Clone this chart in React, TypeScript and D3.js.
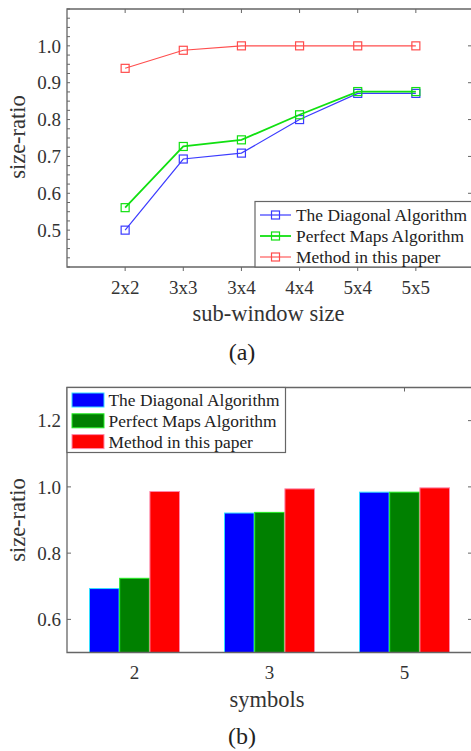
import * as d3 from "d3"

const W = 471
const H = 751
const FONT = "'Liberation Serif', 'Times New Roman', serif"

// panel (a)
const windowSizes = ["2x2", "3x3", "3x4", "4x4", "5x4", "5x5"]
const diagonalLine = [0.5, 0.693, 0.709, 0.8, 0.871, 0.871]
const perfectMapsLine = [0.561, 0.727, 0.745, 0.813, 0.876, 0.876]
const methodLine = [0.939, 0.988, 1.0, 1.0, 1.0, 1.0]
const aTicks = [0.5, 0.6, 0.7, 0.8, 0.9, 1.0]

// panel (b)
const symbolCounts = ["2", "3", "5"]
const diagonalBars = [0.693, 0.921, 0.984]
const perfectMapsBars = [0.724, 0.923, 0.984]
const methodBars = [0.986, 0.994, 0.997]
const bTicks = [0.6, 0.8, 1.0, 1.2]

const seriesNames = ["The Diagonal Algorithm", "Perfect Maps Algorithm", "Method in this paper"]

const axisColor = "#666"

function LinePanel() {
  const left = 67, top = 9, bottom = 267, right = 474
  const x = d3.scaleLinear().domain([0, windowSizes.length + 1]).range([left, right])
  const y = d3.scaleLinear().domain([0.4, 1.1]).range([bottom, top])
  const minor = d3.range(0.4, 1.1001, 0.025)

  const series = [
    { name: seriesNames[0], values: diagonalLine, color: "#3b3bff", width: 1.2 },
    { name: seriesNames[1], values: perfectMapsLine, color: "#11e011", width: 1.8 },
    { name: seriesNames[2], values: methodLine, color: "#ff4d4d", width: 1.1 },
  ]
  const line = d3
    .line<number>()
    .x((_, i) => x(i + 1))
    .y((d) => y(d))

  return (
    <g>
      {/* minor + major ticks on left */}
      {minor.map((v, i) => (
        <line key={"m" + i} x1={left} x2={left + 3} y1={y(v)} y2={y(v)} stroke={axisColor} strokeWidth={1} />
      ))}
      {aTicks.map((v) => (
        <g key={v}>
          <line x1={right - 6} x2={right - 3} y1={y(v)} y2={y(v)} stroke={axisColor} strokeWidth={1} />
          <text x={61} y={y(v)} dy="0.35em" textAnchor="end" fontSize={19} fill="#333">
            {v.toFixed(1)}
          </text>
        </g>
      ))}
      {windowSizes.map((s, i) => (
        <g key={s}>
          <line x1={x(i + 1)} x2={x(i + 1)} y1={top} y2={top + 4} stroke={axisColor} strokeWidth={1} />
          <line x1={x(i + 1)} x2={x(i + 1)} y1={bottom} y2={bottom + 4} stroke={axisColor} strokeWidth={1} />
          <text x={x(i + 1)} y={287} dy="0.35em" textAnchor="middle" fontSize={19} fill="#333">
            {s}
          </text>
        </g>
      ))}
      <path d={`M${right},${top}H${left}V${bottom}H${right}`} fill="none" stroke={axisColor} strokeWidth={1.3} />

      {series.map((s) => (
        <g key={s.name}>
          <path d={line(s.values) ?? ""} fill="none" stroke={s.color} strokeWidth={s.width} />
          {s.values.map((v, i) => (
            <rect key={i} x={x(i + 1) - 4} y={y(v) - 4} width={8} height={8} fill="none" stroke={s.color} strokeWidth={1.2} />
          ))}
        </g>
      ))}

      {/* legend */}
      <rect x={255} y={201.5} width={230} height={bottom - 201.5} fill="#fff" stroke={axisColor} strokeWidth={1.2} />
      {series.map((s, i) => {
        const ly = 215 + i * 21
        return (
          <g key={"l" + i}>
            <line x1={260} x2={291} y1={ly} y2={ly} stroke={s.color} strokeWidth={s.width} />
            <rect x={271.5} y={ly - 4} width={8} height={8} fill="none" stroke={s.color} strokeWidth={1.2} />
            <text x={296} y={ly} dy="0.35em" fontSize={17.4} fill="#222">
              {s.name}
            </text>
          </g>
        )
      })}

      <text x={left + (right - left) / 2 - 2} y={313} dy="0.35em" textAnchor="middle" fontSize={22.5} fill="#333">
        sub-window size
      </text>
      <text transform={`translate(17,${(top + bottom) / 2 - 1}) rotate(-90)`} dy="0.35em" textAnchor="middle" fontSize={22.5} fill="#333">
        size-ratio
      </text>
      <text x={242} y={352} dy="0.35em" textAnchor="middle" fontSize={24} fill="#222">
        (a)
      </text>
    </g>
  )
}

function BarPanel() {
  const left = 67, top = 387.5, bottom = 652.5, right = 472
  const x = d3.scaleLinear().domain([0.5, symbolCounts.length + 0.5]).range([left, right])
  const y = d3.scaleLinear().domain([0.5, 1.3]).range([bottom, top])
  const inner = d3.scaleBand().domain(seriesNames).range([-45, 45]).paddingInner(0.02)

  const groups = [
    { name: seriesNames[0], values: diagonalBars, fill: "#0000ff", edge: "#33ddff" },
    { name: seriesNames[1], values: perfectMapsBars, fill: "#008000", edge: "#22ee22" },
    { name: seriesNames[2], values: methodBars, fill: "#ff0000", edge: "#ff88aa" },
  ]

  return (
    <g>
      {groups.map((g) =>
        g.values.map((v, i) => (
          <rect
            key={g.name + i}
            x={x(i + 1) + (inner(g.name) ?? 0)}
            y={y(v)}
            width={inner.bandwidth()}
            height={bottom - y(v)}
            fill={g.fill}
            stroke={g.edge}
            strokeWidth={1}
          />
        )),
      )}
      {bTicks.map((v) => (
        <g key={v}>
          <line x1={left} x2={left + 4} y1={y(v)} y2={y(v)} stroke={axisColor} strokeWidth={1} />
          <line x1={right - 4} x2={right - 1} y1={y(v)} y2={y(v)} stroke={axisColor} strokeWidth={1} />
          <text x={61} y={y(v)} dy="0.35em" textAnchor="end" fontSize={19} fill="#333">
            {v.toFixed(1)}
          </text>
        </g>
      ))}
      {symbolCounts.map((s, i) => (
        <g key={s}>
          <line x1={x(i + 1)} x2={x(i + 1)} y1={top} y2={top + 4} stroke={axisColor} strokeWidth={1} />
          <text x={x(i + 1)} y={672.5} dy="0.35em" textAnchor="middle" fontSize={19} fill="#333">
            {s}
          </text>
        </g>
      ))}
      <path d={`M${right + 5},${top}H${left}V${bottom}H${right + 5}`} fill="none" stroke={axisColor} strokeWidth={1.3} />

      {/* legend */}
      <rect x={left} y={top} width={218.5} height={452.5 - top} fill="#fff" stroke={axisColor} strokeWidth={1.2} />
      {groups.map((g, i) => {
        const cy = 400 + i * 20.8
        return (
          <g key={"l" + i}>
            <rect x={72} y={cy - 7} width={32} height={14} fill={g.fill} stroke={g.edge} strokeWidth={1} />
            <text x={108.5} y={cy} dy="0.35em" fontSize={17.4} fill="#222">
              {g.name}
            </text>
          </g>
        )
      })}

      <text x={267} y={699} dy="0.35em" textAnchor="middle" fontSize={22.5} fill="#333">
        symbols
      </text>
      <text transform={`translate(17,${520}) rotate(-90)`} dy="0.35em" textAnchor="middle" fontSize={22.5} fill="#333">
        size-ratio
      </text>
      <text x={242} y={736} dy="0.35em" textAnchor="middle" fontSize={24} fill="#222">
        (b)
      </text>
    </g>
  )
}

export default function App() {
  return (
    <svg
      width={W}
      height={H}
      viewBox={`0 0 ${W} ${H}`}
      style={{ position: "absolute", left: 0, top: 0, background: "#fff" }}
      fontFamily={FONT}
    >
      <LinePanel />
      <BarPanel />
    </svg>
  )
}
